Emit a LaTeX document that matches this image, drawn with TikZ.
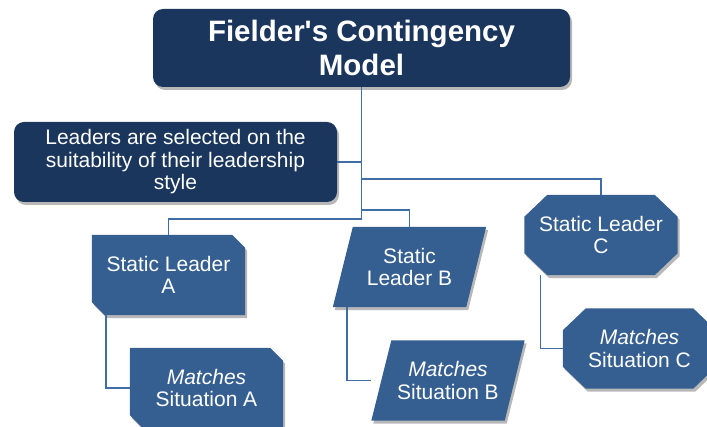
\documentclass[tikz,border=0pt]{standalone}
\usepackage{fontspec}
\setmainfont[Ligatures=TeXOff]{Liberation Sans}
\usetikzlibrary{shadows,calc,backgrounds}
\definecolor{navy}{HTML}{1A365D}
\definecolor{midblue}{HTML}{365F91}
\definecolor{linkblue}{HTML}{3F6DA6}
\tikzset{
  shade/.style={drop shadow={shadow xshift=2pt,shadow yshift=-3pt,opacity=0.28,fill=black}},
  bodytext/.style={font=\fontsize{21}{22.5}\selectfont, text=white, align=center, inner sep=0pt},
  roundbox/.style={bodytext, rectangle, rounded corners=10pt, fill=navy, shade},
  titlebox/.style={roundbox, minimum width=417pt, minimum height=78pt, font=\fontsize{29.5}{34}\selectfont\bfseries},
  leadbox/.style={roundbox, minimum width=323pt, minimum height=80pt},
  shapebox/.style={bodytext, rectangle, minimum width=153pt, minimum height=80pt},
  shapefill/.style={fill=midblue, shade},
  link/.style={draw=linkblue, line width=1.6pt}
}
\begin{document}
\begin{tikzpicture}[x=1pt,y=-1pt]
\useasboundingbox (0,0) rectangle (707,427);
\clip (0,0) rectangle (707,427);
\node[titlebox] (title) at (361.5,48) {Fielder's Contingency\\Model};
\node[leadbox] (lead) at (175.5,162) {Leaders are selected on the\\suitability of their leadership\\style};
\node[shapebox] (sla) at (168.5,275) {Static Leader\\A};
\node[shapebox] (msa) at (206.5,388) {\textit{Matches}\\Situation A};
\node[shapebox] (slb) at (409.5,267) {Static\\Leader B};
\node[shapebox] (msb) at (448,380.5) {\textit{Matches}\\Situation B};
\node[shapebox] (slc) at (601,235) {Static Leader\\C};
\node[shapebox] (msc) at (639.5,348.5) {\textit{Matches}\\Situation C};
\begin{scope}[on background layer]
  % snipped rectangles
  \foreach \n in {sla,msa}{
    \fill[shapefill] (\n.north west) -- ($(\n.north east)+(-13,0)$) -- ($(\n.north east)+(0,13)$)
      -- (\n.south east) -- ($(\n.south west)+(13,0)$) -- ($(\n.south west)+(0,-13)$) -- cycle;
  }
  % parallelograms
  \foreach \n in {slb,msb}{
    \fill[shapefill] (\n.south west) -- ($(\n.north west)+(20,0)$) -- (\n.north east)
      -- ($(\n.south east)+(-20,0)$) -- cycle;
  }
  % octagons
  \foreach \n in {slc,msc}{
    \fill[shapefill] ($(\n.north west)+(23,0)$) -- ($(\n.north east)+(-23,0)$) -- ($(\n.north east)+(0,22)$)
      -- ($(\n.south east)+(0,-22)$) -- ($(\n.south east)+(-23,0)$) -- ($(\n.south west)+(23,0)$)
      -- ($(\n.south west)+(0,-22)$) -- ($(\n.north west)+(0,22)$) -- cycle;
  }
\end{scope}
\draw[link] (title.south) -- ++(0,132) coordinate (tend);
\draw[link] (lead.east) -- (lead.east -| title.south);
\draw[link] ($(title.south)+(0,92)$) -| (slc.north);
\draw[link] ($(title.south)+(0,123)$) -| (slb.north);
\draw[link] (tend) -| (sla.north);
\draw[link] ($(sla.south west)+(14,0)$) |- (msa.west);
\draw[link] ($(slb.south west)+(14,0)$) |- (msb.west);
\draw[link] ($(slc.south west)+(16,0)$) |- (msc.west);
\end{tikzpicture}
\end{document}
